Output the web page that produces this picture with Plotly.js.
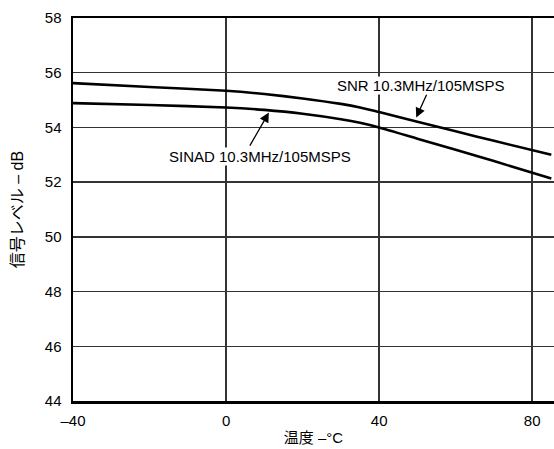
<!DOCTYPE html>
<html><head><meta charset="utf-8">
<script src="https://cdn.plot.ly/plotly-3.0.1.min.js"></script>
<style>html,body{margin:0;padding:0;background:#fff}</style>
</head><body>
<div id="chart" style="width:554px;height:449px"></div>
<script>
var temps = [-40, -20, 0, 10, 20, 30, 35, 40, 50, 60, 70, 85];
var snr   = [55.62, 55.48, 55.34, 55.22, 55.06, 54.86, 54.73, 54.56, 54.21, 53.86, 53.51, 53.0];
var sinad = [54.89, 54.82, 54.73, 54.64, 54.50, 54.30, 54.17, 54.00, 53.59, 53.18, 52.77, 52.13];
var xTicks = [-40, 0, 40, 80];
var xTickText = ['\u201340', '0', '40', '80'];
var yTicks = [44, 46, 48, 50, 52, 54, 56, 58];
var labels = ['SNR 10.3MHz/105MSPS', 'SINAD 10.3MHz/105MSPS'];
var snrArrow = {x: 49.7, y: 54.36, tailX: 52.6, tailY: 55.26, textX: 51.0, textY: 55.55};
var sinadArrow = {x: 11.2, y: 54.55, tailX: 6.0, tailY: 53.28, textX: 8.85, textY: 52.95};

var font = 'Liberation Sans, Arial, sans-serif';
var mixed = 'Liberation Sans, Noto Sans CJK JP, sans-serif';
var traces = [
  {x: temps, y: snr, mode: 'lines', line: {color: '#000', width: 2.6, shape: 'spline', smoothing: 0.6}, hoverinfo: 'skip'},
  {x: temps, y: sinad, mode: 'lines', line: {color: '#000', width: 2.6, shape: 'spline', smoothing: 0.6}, hoverinfo: 'skip'}
];
var layout = {
  width: 554, height: 449,
  margin: {l: 73, r: 0, t: 18, b: 48},
  paper_bgcolor: '#fff', plot_bgcolor: '#fff',
  showlegend: false,
  font: {family: font, size: 15, color: '#000'},
  xaxis: {
    range: [-40, 85.7], tickvals: xTicks, ticktext: xTickText,
    showgrid: true, gridcolor: '#333', gridwidth: 1.5,
    showline: true, linecolor: '#000', linewidth: 2.5, mirror: true,
    zeroline: false, ticks: '', ticklen: 0, ticklabelstandoff: 4,
    tickfont: {family: font, size: 15},
    title: {text: '温度 –°C', font: {family: mixed, size: 15}, standoff: 5}
  },
  yaxis: {
    range: [44, 58], tickvals: yTicks,
    showgrid: true, gridcolor: '#333', gridwidth: 1.5,
    showline: true, linecolor: '#000', linewidth: 2.5,
    zeroline: false, ticks: '', ticklen: 0, ticklabelstandoff: 6,
    tickfont: {family: font, size: 15},
    title: {text: '信号レベル – dB', font: {family: mixed, size: 16}, standoff: 17}
  },
  annotations: [
    {x: snrArrow.x, y: snrArrow.y, ax: snrArrow.tailX, ay: snrArrow.tailY, axref: 'x', ayref: 'y',
     text: '', showarrow: true, arrowhead: 2, arrowsize: 1.5, arrowwidth: 1.3, arrowcolor: '#000'},
    {x: snrArrow.textX, y: snrArrow.textY, text: labels[0], showarrow: false,
     font: {family: font, size: 15}, bgcolor: '#fff', borderpad: 0},
    {x: sinadArrow.x, y: sinadArrow.y, ax: sinadArrow.tailX, ay: sinadArrow.tailY, axref: 'x', ayref: 'y',
     text: '', showarrow: true, arrowhead: 2, arrowsize: 1.5, arrowwidth: 1.3, arrowcolor: '#000'},
    {x: sinadArrow.textX, y: sinadArrow.textY, text: labels[1], showarrow: false,
     font: {family: font, size: 15}, bgcolor: '#fff', borderpad: 0}
  ]
};
Plotly.newPlot('chart', traces, layout, {displayModeBar: false, staticPlot: true});
</script>
</body></html>
